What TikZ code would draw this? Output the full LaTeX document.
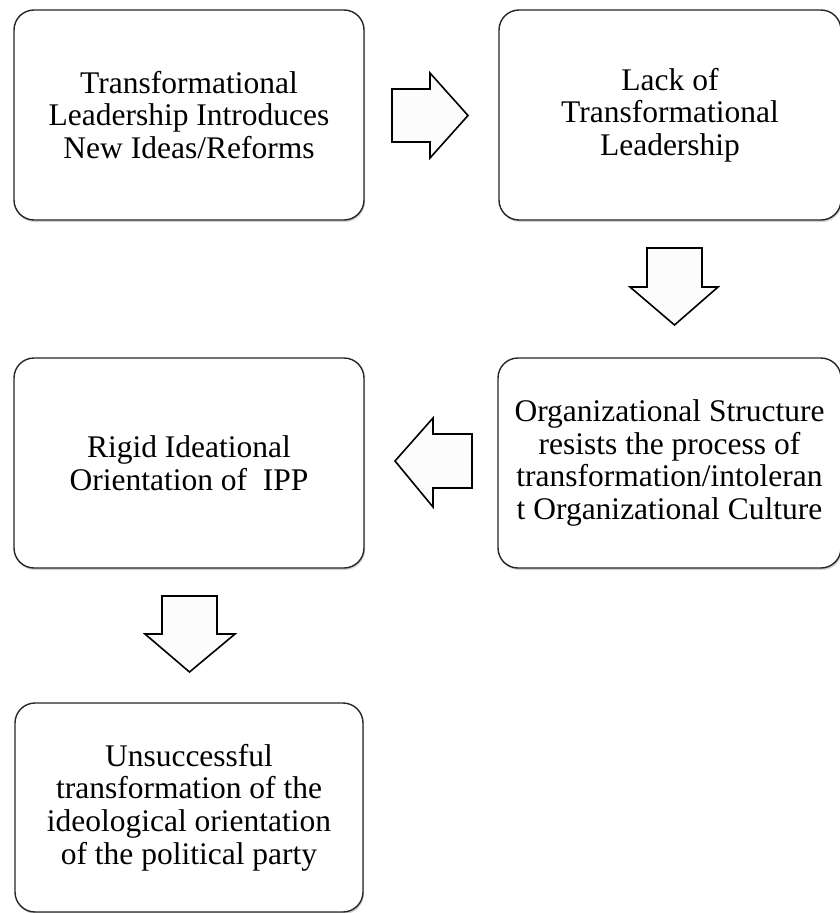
\documentclass[tikz,border=0pt]{standalone}
\usepackage{fontspec}
\setmainfont{Liberation Serif}
\usetikzlibrary{shadows}
\begin{document}
\begin{tikzpicture}[x=1pt,y=-1pt,
  stepbox/.style={draw=black!85, line width=1.4pt, rounded corners=20pt,
    fill=white, inner sep=0pt, align=center,
    font=\fontsize{31.5}{32.6}\selectfont,
    drop shadow={shadow xshift=1pt, shadow yshift=-2pt, opacity=0.35}},
  blockarrow/.style={draw=black, line width=1.6pt, fill=black!1, line join=miter}]
\useasboundingbox (0,0) rectangle (839,913);

% process boxes
\node[stepbox, minimum width=350pt, minimum height=210pt] (lead) at (189,115)
  {Transformational\\Leadership Introduces\\New Ideas/Reforms};
\node[stepbox, minimum width=342pt, minimum height=210pt] (lack) at (670,115)
  {Lack of\\Transformational\\Leadership};
\node[stepbox, minimum width=343pt, minimum height=210pt] (org) at (669.5,463)
  {Organizational Structure\\resists the process of\\transformation/intoleran\\t Organizational Culture};
\node[stepbox, minimum width=350pt, minimum height=210pt] (rigid) at (189,463)
  {Rigid Ideational\\Orientation of\ \ IPP};
\node[stepbox, minimum width=348pt, minimum height=209pt] (fail) at (189,807.5)
  {Unsuccessful\\transformation of the\\ideological orientation\\of the political party};

% block arrows between the boxes
\draw[blockarrow] (392,89) -- (430,89) -- (430,73) -- (468,115.5) -- (430,158)
  -- (430,142) -- (392,142) -- cycle;
\draw[blockarrow] (647,248) -- (702,248) -- (702,287) -- (718,287) -- (674.5,325)
  -- (630,287) -- (647,287) -- cycle;
\draw[blockarrow] (472,434) -- (433,434) -- (433,418) -- (395,461) -- (433,507)
  -- (433,488) -- (472,488) -- cycle;
\draw[blockarrow] (162,596) -- (217,596) -- (217,634) -- (235,634) -- (189.5,672)
  -- (145,634) -- (162,634) -- cycle;
\end{tikzpicture}
\end{document}
